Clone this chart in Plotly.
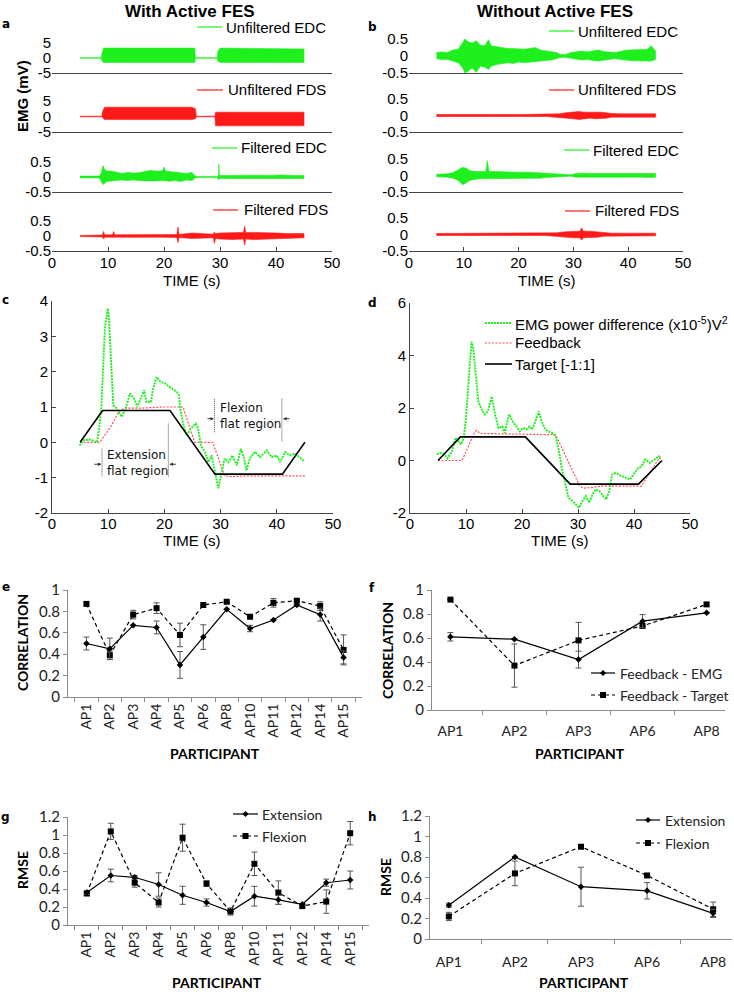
import plotly.graph_objects as go

# ======================= DATA =======================
time_ticks = [0, 10, 20, 30, 40, 50]
big_ticks = [-5, 0, 5]
small_ticks = [-0.5, 0, 0.5]

# ---- Panel a (With Active FES): EMG envelopes, time (s), upper / lower (mV)
a_uedc_t = [5, 8.8, 8.9, 9.2, 25.5, 25.6, 29.5, 29.6, 30.0, 45]
a_uedc_hi = [0.1, 0.1, 1.5, 3.3, 3.3, 0.1, 0.1, 2.0, 3.3, 3.0]
a_uedc_lo = [-0.1, -0.1, -0.8, -1.5, -1.5, -0.1, -0.1, -1.0, -1.5, -1.5]

a_ufds_t = [5, 8.9, 9.0, 9.4, 25.0, 25.6, 25.8, 29.1, 29.2, 45]
a_ufds_hi = [0.1, 0.1, 1.5, 3.0, 3.0, 2.5, 0.1, 0.1, 1.4, 1.4]
a_ufds_lo = [-0.1, -0.1, -0.5, -1.0, -1.0, -0.7, -0.1, -0.1, -3.0, -3.0]

a_fedc_t = [5, 8.5, 8.8, 9.1, 9.4, 9.8, 10.5, 11.5, 12.5, 13.5, 14.5, 15.5, 16.5, 17.5, 18.5,
            19.7, 20.0, 20.3, 21, 22, 23, 24, 25, 25.5, 26, 29.5, 29.7, 29.8, 29.9, 31, 33, 35,
            37, 39, 41, 43, 45]
a_fedc_hi = [0.03, 0.03, 0.15, 0.38, 0.25, 0.2, 0.2, 0.15, 0.12, 0.15, 0.13, 0.14, 0.17, 0.22, 0.2,
             0.2, 0.33, 0.2, 0.18, 0.15, 0.14, 0.12, 0.15, 0.04, 0.02, 0.02, 0.05, 0.42, 0.05, 0.05,
             0.06, 0.05, 0.06, 0.05, 0.07, 0.05, 0.05]
a_fedc_lo = [-0.03, -0.03, -0.15, -0.25, -0.22, -0.15, -0.15, -0.12, -0.1, -0.12, -0.1, -0.12, -0.13,
             -0.14, -0.13, -0.12, -0.12, -0.12, -0.14, -0.12, -0.15, -0.1, -0.12, -0.04, -0.02,
             -0.02, -0.05, -0.1, -0.05, -0.05, -0.05, -0.05, -0.05, -0.05, -0.06, -0.05, -0.05]

a_ffds_t = [5, 9.0, 9.2, 9.4, 10.8, 11.0, 11.2, 15, 20, 22.3, 22.5, 22.7, 25, 28.8, 29.0, 29.2,
            30, 32, 34.2, 34.4, 34.6, 36, 38, 40, 42, 45]
a_ffds_hi = [0.02, 0.03, 0.15, 0.04, 0.04, 0.15, 0.04, 0.04, 0.04, 0.05, 0.3, 0.05, 0.1, 0.06,
             0.13, 0.08, 0.1, 0.12, 0.12, 0.33, 0.12, 0.12, 0.12, 0.1, 0.08, 0.08]
a_ffds_lo = [-0.02, -0.03, -0.1, -0.04, -0.04, -0.06, -0.04, -0.04, -0.04, -0.05, -0.22, -0.05,
             -0.08, -0.06, -0.25, -0.08, -0.1, -0.12, -0.1, -0.3, -0.1, -0.12, -0.1, -0.1, -0.08, -0.06]

# ---- Panel b (Without Active FES)
b_uedc_t = [5, 6, 7, 8, 9, 9.8, 10.2, 10.8, 11.5, 12.3, 13, 13.8, 14.5, 15, 16, 17, 18, 19, 20, 21,
            22, 23, 24, 25, 26, 27, 27.5, 28.5, 29.5, 30.5, 31.5, 32.5, 33.5, 34.5, 35.5, 36.5, 37.5,
            38.5, 39.5, 40.5, 41.5, 42.5, 43.5, 44.2, 45]
b_uedc_hi = [0.1, 0.12, 0.1, 0.18, 0.2, 0.38, 0.5, 0.42, 0.38, 0.45, 0.32, 0.3, 0.48, 0.3, 0.27,
             0.25, 0.22, 0.22, 0.2, 0.2, 0.22, 0.25, 0.18, 0.15, 0.14, 0.1, 0.05, 0.04, 0.1, 0.13,
             0.15, 0.12, 0.15, 0.18, 0.13, 0.12, 0.1, 0.13, 0.17, 0.18, 0.18, 0.2, 0.2, 0.3, 0.15]
b_uedc_lo = [-0.08, -0.1, -0.1, -0.15, -0.2, -0.35, -0.5, -0.45, -0.35, -0.48, -0.3, -0.32, -0.4,
             -0.3, -0.25, -0.22, -0.2, -0.22, -0.18, -0.2, -0.2, -0.18, -0.15, -0.13, -0.12, -0.08,
             -0.05, -0.04, -0.08, -0.1, -0.12, -0.1, -0.13, -0.15, -0.12, -0.1, -0.08, -0.1, -0.12,
             -0.14, -0.13, -0.15, -0.15, -0.15, -0.1]

b_ufds_t = [5, 10, 15, 20, 25, 27.5, 28.5, 30, 31, 32, 33, 34, 35, 36, 37, 39, 41, 43, 45]
b_ufds_hi = [0.03, 0.04, 0.03, 0.03, 0.03, 0.05, 0.08, 0.1, 0.12, 0.1, 0.1, 0.12, 0.1, 0.08, 0.06,
             0.05, 0.05, 0.06, 0.05]
b_ufds_lo = [-0.03, -0.03, -0.03, -0.03, -0.03, -0.05, -0.08, -0.1, -0.12, -0.1, -0.08, -0.1, -0.1,
             -0.08, -0.05, -0.05, -0.04, -0.05, -0.05]

b_fedc_t = [5, 7, 8, 9, 9.8, 10.5, 11, 12, 13, 14, 14.3, 14.6, 16, 18, 20, 22, 24, 25, 26, 27, 28,
            29.5, 30.5, 32, 34, 36, 38, 40, 42, 44, 45]
b_fedc_hi = [0.04, 0.05, 0.08, 0.18, 0.25, 0.22, 0.15, 0.12, 0.12, 0.12, 0.45, 0.12, 0.12, 0.1,
             0.1, 0.1, 0.08, 0.08, 0.05, 0.05, 0.03, 0.02, 0.06, 0.07, 0.06, 0.06, 0.07, 0.06, 0.06,
             0.08, 0.06]
b_fedc_lo = [-0.04, -0.05, -0.08, -0.15, -0.28, -0.22, -0.15, -0.12, -0.1, -0.1, -0.1, -0.1, -0.1,
             -0.1, -0.08, -0.08, -0.08, -0.06, -0.05, -0.04, -0.03, -0.02, -0.05, -0.05, -0.05,
             -0.05, -0.05, -0.05, -0.05, -0.06, -0.05]

b_ffds_t = [5, 10, 15, 20, 25, 27, 28.5, 30, 31.2, 31.5, 31.8, 33, 34.5, 35.5, 37, 40, 45]
b_ffds_hi = [0.03, 0.03, 0.03, 0.03, 0.03, 0.05, 0.08, 0.1, 0.1, 0.2, 0.1, 0.1, 0.08, 0.05, 0.04,
             0.04, 0.04]
b_ffds_lo = [-0.03, -0.03, -0.03, -0.03, -0.03, -0.05, -0.08, -0.1, -0.1, -0.17, -0.1, -0.1, -0.08,
             -0.05, -0.04, -0.04, -0.04]

# ---- Panel c
c_emg_t = [4.9, 5.6, 6.8, 8.0, 8.4, 8.8, 9.4, 9.9, 10.1, 10.5, 10.9, 11.5, 12.4, 13.0, 13.4, 13.9,
           14.6, 15.2, 16.0, 16.4, 16.8, 17.6, 18.0, 18.6, 19.3, 20.1, 20.9, 21.6, 22.2, 22.6, 22.8,
           23.4, 24.0, 24.7, 25.6, 26.0, 26.5, 27.2, 27.8, 28.4, 29.3, 29.6, 30.2, 30.7, 31.4, 32.1,
           32.9, 33.6, 34.2, 34.6, 35.2, 36.1, 37.0, 38.2, 39.1, 40.0, 40.6, 41.5, 42.3, 43.2, 44.1,
           44.8]
c_emg_v = [-0.09, 0.06, 0.08, 0.0, 0.39, 1.05, 3.2, 3.79, 3.6, 2.28, 1.05, 0.96, 0.72, 0.91, 1.14,
           1.38, 1.24, 1.0, 1.33, 1.48, 1.14, 1.14, 1.52, 1.85, 1.71, 1.67, 1.57, 1.48, 1.43, 1.33,
           0.96, 0.48, 0.2, 0.39, 0.53, 0.39, -0.09, -0.27, -0.56, -0.37, -1.13, -1.3, -0.84, -0.46,
           -0.56, -0.37, -0.65, -0.18, -0.46, -0.8, -0.46, -0.27, -0.42, -0.23, -0.42, -0.37, -0.56,
           -0.27, -0.37, -0.32, -0.42, -0.53]
c_fb_t = [5, 8.5, 10.5, 12.0, 13.0, 16, 20, 23.3, 25.4, 28.6, 30.7, 32, 35, 45]
c_fb_v = [0, 0, 0.45, 0.9, 0.97, 0.97, 1.0, 1.0, 0.0, 0.0, -0.95, -0.97, -0.95, -0.95]
c_tg_t = [5, 9, 21, 29, 41, 45]
c_tg_v = [0, 0.9, 0.9, -0.9, -0.9, 0]

# ---- Panel d
d_emg_t = [4.8, 5.5, 6.1, 6.7, 7.5, 8.1, 8.7, 9.1, 9.6, 10.0, 10.6, 11.0, 11.3, 11.8, 12.2, 12.7,
           13.3, 13.9, 14.6, 15.2, 15.8, 16.5, 16.9, 17.7, 18.5, 19.0, 19.6, 20.2, 20.8, 21.3, 21.8,
           22.4, 23.0, 23.4, 24.0, 24.6, 25.4, 26.0, 26.5, 27.1, 27.7, 28.3, 29.0, 29.6, 30.2, 30.8,
           31.4, 32.0, 32.6, 33.2, 33.8, 34.5, 35.0, 35.6, 36.1, 36.8, 37.7, 38.6, 39.3, 40.1, 40.8,
           41.4, 42.0, 42.9, 43.6, 44.4, 44.8]
d_emg_v = [0.23, 0.29, 0.23, 0.08, 0.35, 0.86, 0.73, 0.61, 0.86, 1.62, 3.39, 4.53, 4.28, 3.01, 2.25,
           2.0, 1.75, 1.87, 2.44, 1.75, 1.24, 1.3, 1.05, 1.75, 1.43, 1.3, 1.11, 1.24, 1.18, 1.3, 1.18,
           1.49, 1.87, 1.56, 1.24, 1.11, 1.05, 0.92, 0.48, -0.28, -0.91, -1.42, -1.54, -1.67, -1.8,
           -1.54, -1.35, -1.61, -1.29, -1.1, -1.16, -1.35, -1.48, -1.16, -0.53, -0.47, -0.59, -0.66,
           -0.72, -0.47, -0.28, -0.22, 0.04, -0.09, 0.04, 0.16, 0.1]
d_fb_t = [5, 9.3, 11.6, 11.9, 12.5, 16, 20, 26.0, 30.3, 31.0, 32.5, 34, 41.3, 44.5, 45]
d_fb_v = [0, 0, 1.1, 1.15, 1.03, 1.02, 1.0, 0.98, -0.97, -1.05, -1.03, -0.98, -0.98, 0.1, 0.05]
d_tg_t = [5, 9, 20.6, 28.6, 40.8, 45]
d_tg_v = [0, 0.9, 0.9, -0.9, -0.9, 0]

# ---- Panels e-h
all_parts = ['AP1', 'AP2', 'AP3', 'AP4', 'AP5', 'AP6', 'AP8', 'AP10', 'AP11', 'AP12', 'AP14', 'AP15']
sub_parts = ['AP1', 'AP2', 'AP3', 'AP6', 'AP8']

e_emg = [0.50, 0.45, 0.67, 0.65, 0.30, 0.56, 0.82, 0.64, 0.72, 0.86, 0.77, 0.37]
e_emg_err = [0.06, 0.10, 0.0, 0.06, 0.125, 0.115, 0.0, 0.03, 0.0, 0.0, 0.06, 0.06]
e_tgt = [0.87, 0.39, 0.77, 0.83, 0.58, 0.86, 0.89, 0.75, 0.88, 0.90, 0.85, 0.44]
e_tgt_err = [0.015, 0.04, 0.04, 0.05, 0.11, 0.0, 0.0, 0.0, 0.04, 0.01, 0.04, 0.14]

f_emg = [0.61, 0.59, 0.42, 0.74, 0.81]
f_emg_err = [0.035, 0.0, 0.07, 0.055, 0.0]
f_tgt = [0.92, 0.37, 0.58, 0.70, 0.88]
f_tgt_err = [0.0, 0.18, 0.15, 0.0, 0.015]

g_ext = [0.36, 0.55, 0.53, 0.45, 0.33, 0.25, 0.15, 0.32, 0.28, 0.23, 0.47, 0.50]
g_ext_err = [0.02, 0.07, 0.02, 0.13, 0.1, 0.04, 0.04, 0.11, 0.05, 0.0, 0.04, 0.1]
g_flx = [0.35, 1.04, 0.47, 0.25, 0.97, 0.46, 0.15, 0.68, 0.36, 0.21, 0.26, 1.02]
g_flx_err = [0.02, 0.09, 0.05, 0.05, 0.15, 0.03, 0.0, 0.13, 0.13, 0.02, 0.13, 0.13]

h_ext = [0.33, 0.80, 0.51, 0.47, 0.25]
h_ext_err = [0.02, 0.0, 0.19, 0.08, 0.04]
h_flx = [0.22, 0.64, 0.90, 0.62, 0.29]
h_flx_err = [0.04, 0.12, 0.0, 0.0, 0.07]

# ======================= STYLE / LAYOUT =======================
W, H = 734, 992
GREEN = '#1ef01e'
RED = '#ff1a1a'
LRED = '#ff5050'
AXC = '#444444'
XLC = '#8c8c8c'
MFONT = 'Liberation Sans'
XFONT = 'Lato'
DFONT = 'DejaVu Sans'


def fmt(v):
    return '%g' % v


fig = go.Figure()
layout = {}
shapes = []
anns = []


def ids(n):
    s = '' if n == 1 else str(n)
    return 'xaxis' + s, 'yaxis' + s, 'x' + s, 'y' + s


def axes(n, xpx, ypx, xcfg, ycfg):
    xa, ya, xr, yr = ids(n)
    bx = dict(domain=[xpx[0] / W, xpx[1] / W], anchor=yr, showgrid=False, zeroline=False,
              fixedrange=True, automargin=False)
    by = dict(domain=[1 - ypx[1] / H, 1 - ypx[0] / H], anchor=xr, showgrid=False,
              zeroline=False, fixedrange=True, automargin=False)
    bx.update(xcfg)
    by.update(ycfg)
    layout[xa] = bx
    layout[ya] = by
    return xr, yr


def txt(x, y, s, size, family, bold=False, xanchor='center', yanchor='middle', angle=0,
        color='black', align='center'):
    if bold:
        s = '<b>' + s + '</b>'
    anns.append(dict(x=x / W, y=1 - y / H, xref='paper', yref='paper', text=s, showarrow=False,
                     font=dict(size=size, family=family, color=color), xanchor=xanchor,
                     yanchor=yanchor, textangle=angle, align=align, borderpad=0))


def hline(x0, x1, y, color, width=1.0, dash='solid'):
    shapes.append(dict(type='line', xref='paper', yref='paper', x0=x0 / W, x1=x1 / W,
                       y0=1 - y / H, y1=1 - y / H, line=dict(color=color, width=width, dash=dash)))


def square(cx, cy, s=3):
    shapes.append(dict(type='rect', xref='paper', yref='paper', x0=(cx - s) / W, x1=(cx + s) / W,
                       y0=1 - (cy + s) / H, y1=1 - (cy - s) / H, fillcolor='black',
                       line=dict(width=0)))


def diamond(cx, cy, s=3):
    p = 'M %f,%f L %f,%f L %f,%f L %f,%f Z' % (
        (cx - s) / W, 1 - cy / H, cx / W, 1 - (cy - s) / H, (cx + s) / W, 1 - cy / H,
        cx / W, 1 - (cy + s) / H)
    shapes.append(dict(type='path', xref='paper', yref='paper', path=p, fillcolor='black',
                       line=dict(width=0)))


tickfont_m = dict(family=MFONT, size=15, color='black')


def mx(show, standoff=0):
    d = dict(range=[0, 50], showline=True, linecolor=AXC, linewidth=1)
    if show:
        d.update(tickvals=time_ticks, ticktext=[fmt(v) for v in time_ticks], ticks='inside',
                 ticklen=4, tickcolor=AXC, tickfont=tickfont_m, ticklabelstandoff=standoff)
    else:
        d.update(showticklabels=False, ticks='')
    return d


def myrow(ticks):
    r = ticks[-1]
    return dict(range=[-r, r], tickvals=ticks, ticktext=[fmt(v) for v in ticks], showline=False,
                ticks='', tickfont=tickfont_m)


def band(n, t, hi, lo, color):
    _, _, xr, yr = ids(n)
    xs = list(t) + list(t)[::-1]
    ys = list(hi) + list(lo)[::-1]
    fig.add_trace(go.Scatter(x=xs, y=ys, xaxis=xr, yaxis=yr, mode='lines', fill='toself',
                             fillcolor=color, line=dict(color=color, width=0.6),
                             hoverinfo='skip'))


# ---- panels a and b
a_x = (52, 332)
b_x = (409, 683)
a_rows = [(43, 73), (101, 132), (162, 192), (221, 251)]
b_rows = [(39, 73), (99, 132), (159, 192), (218, 251)]
a_series = [(a_uedc_t, a_uedc_hi, a_uedc_lo, GREEN, big_ticks, 'Unfiltered EDC'),
            (a_ufds_t, a_ufds_hi, a_ufds_lo, RED, big_ticks, 'Unfiltered FDS'),
            (a_fedc_t, a_fedc_hi, a_fedc_lo, GREEN, small_ticks, 'Filtered EDC'),
            (a_ffds_t, a_ffds_hi, a_ffds_lo, RED, small_ticks, 'Filtered FDS')]
b_series = [(b_uedc_t, b_uedc_hi, b_uedc_lo, GREEN, small_ticks, 'Unfiltered EDC'),
            (b_ufds_t, b_ufds_hi, b_ufds_lo, RED, small_ticks, 'Unfiltered FDS'),
            (b_fedc_t, b_fedc_hi, b_fedc_lo, GREEN, small_ticks, 'Filtered EDC'),
            (b_ffds_t, b_ffds_hi, b_ffds_lo, RED, small_ticks, 'Filtered FDS')]
a_leg = [(197, 222, 225, 27), (197, 223, 227, 90), (212, 237, 240, 148), (213, 238, 243, 210)]
b_leg = [(549, 574, 577, 31), (549, 574, 577, 90), (564, 589, 592, 150), (565, 590, 594, 211)]

n = 1
for xpx, rows, series, legs in [(a_x, a_rows, a_series, a_leg), (b_x, b_rows, b_series, b_leg)]:
    for i in range(4):
        t, hi, lo, col, tk, name = series[i]
        axes(n, xpx, rows[i], mx(i == 3, -2), myrow(tk))
        band(n, t, hi, lo, col)
        lx0, lx1, tx, ty = legs[i]
        hline(lx0, lx1, ty, col, 1.2)
        txt(tx, ty, name, 15, MFONT, xanchor='left')
        n += 1

txt(190, 11, 'With Active FES', 17, MFONT, bold=True)
txt(555, 11, 'Without Active FES', 17, MFONT, bold=True)
txt(22, 96, 'EMG (mV)', 15, MFONT, bold=True, angle=-90)
txt(192, 280, 'TIME (s)', 15, MFONT)
txt(547, 280, 'TIME (s)', 15, MFONT)


# ---- panels c and d
def mycd(lo, hi, step):
    tv = list(range(lo, hi + 1, step))
    return dict(range=[lo, hi], tickvals=tv, ticktext=[fmt(v) for v in tv], showline=True,
                linecolor=AXC, ticks='inside', ticklen=4, tickcolor=AXC, tickfont=tickfont_m)


for n_, xpx, ypx, (ylo, yhi, st), emg_t, emg_v, fb_t, fb_v, tg_t, tg_v in [
        (9, (52, 333), (301, 513), (-2, 4, 1), c_emg_t, c_emg_v, c_fb_t, c_fb_v, c_tg_t, c_tg_v),
        (10, (410, 690), (303, 513), (-2, 6, 2), d_emg_t, d_emg_v, d_fb_t, d_fb_v, d_tg_t, d_tg_v)]:
    xr, yr = axes(n_, xpx, ypx, mx(True, -3), mycd(ylo, yhi, st))
    fig.add_trace(go.Scatter(x=fb_t, y=fb_v, xaxis=xr, yaxis=yr, mode='lines',
                             line=dict(color=LRED, width=1.2, dash='2px,1.5px')))
    fig.add_trace(go.Scatter(x=emg_t, y=emg_v, xaxis=xr, yaxis=yr, mode='lines',
                             line=dict(color=GREEN, width=1.9, dash='2px,1px')))
    fig.add_trace(go.Scatter(x=tg_t, y=tg_v, xaxis=xr, yaxis=yr, mode='lines',
                             line=dict(color='black', width=1.6)))

txt(192, 540, 'TIME (s)', 15, MFONT)
txt(560, 540, 'TIME (s)', 15, MFONT)

# flat-region markers in panel c (at target breakpoints)
ext_x0, ext_x1 = c_tg_t[1], c_tg_t[2]
flx_x0, flx_x1 = c_tg_t[3], c_tg_t[4]
for x0, y0, y1 in [(ext_x0 - 0.1, -0.18, -0.98), (ext_x1 - 0.3, 0.53, -0.98),
                   (flx_x0 - 0.1, 1.22, 0.27), (flx_x1 - 0.1, 1.24, 0.0)]:
    shapes.append(dict(type='line', xref='x9', yref='y9', x0=x0, x1=x0, y0=y0, y1=y1,
                       line=dict(color='#555555', width=1, dash='1px,1px')))
for tip, tail, yy in [(ext_x0 - 0.2, ext_x0 - 1.7, -0.62), (ext_x1 - 0.1, ext_x1 + 1.3, -0.62),
                      (flx_x0 - 0.2, flx_x0 - 1.6, 0.67), (flx_x1 + 0.1, flx_x1 + 1.5, 0.67)]:
    anns.append(dict(x=tip, y=yy, ax=tail, ay=yy, xref='x9', yref='y9', axref='x9', ayref='y9',
                     text='', showarrow=True, arrowhead=2, arrowsize=0.7, arrowwidth=1,
                     arrowcolor='#333333', standoff=0))
anns.append(dict(x=9.5, y=-0.58, xref='x9', yref='y9', text='Extension<br>flat region',
                 showarrow=False, xanchor='left', yanchor='middle', align='left',
                 font=dict(family=DFONT, size=12, color='#111111')))
anns.append(dict(x=29.6, y=0.74, xref='x9', yref='y9', text='Flexion<br>flat region',
                 showarrow=False, xanchor='left', yanchor='middle', align='left',
                 font=dict(family=DFONT, size=12, color='#111111')))

# legend of panel d
hline(485, 512, 323, GREEN, 1.9, '2px,1px')
hline(485, 512, 343, LRED, 1.2, '2px,1.5px')
hline(485, 512, 364, 'black', 1.6)
txt(514, 323, 'EMG power difference (x10<sup>-5</sup>)V<sup>2</sup>', 15, MFONT, xanchor='left')
txt(514, 343, 'Feedback', 15, MFONT, xanchor='left')
txt(514, 364, 'Target [-1:1]', 15, MFONT, xanchor='left')

# ---- panels e-h
tickfont_x = dict(family=XFONT, size=14, color='#222222')
tickfont_y = dict(family=XFONT, size=15, color='#222222')


def ex_x(rot, standoff=0):
    d = dict(type='category', showline=True, linecolor=XLC, ticks='outside', tickson='boundaries',
             ticklen=4, tickcolor=XLC, tickfont=tickfont_x, ticklabelstandoff=standoff)
    if rot:
        d['tickangle'] = -90
    return d


def ex_y(top):
    tv = [round(0.2 * k, 1) for k in range(int(round(top / 0.2)) + 1)]
    return dict(range=[0, top], tickvals=tv, ticktext=[fmt(v) for v in tv], showline=True,
                linecolor=XLC, ticks='outside', ticklen=4, tickcolor=XLC, tickfont=tickfont_y)


def series_pair(n_, cats, s1, e1, s2, e2):
    _, _, xr, yr = ids(n_)
    fig.add_trace(go.Scatter(x=cats, y=s2, xaxis=xr, yaxis=yr, mode='lines+markers',
                             line=dict(color='black', width=1.2, dash='4px,3px'),
                             marker=dict(symbol='square', size=6, color='black'),
                             error_y=dict(type='data', array=e2, color='#555555', thickness=1,
                                          width=3)))
    fig.add_trace(go.Scatter(x=cats, y=s1, xaxis=xr, yaxis=yr, mode='lines+markers',
                             line=dict(color='black', width=1.2),
                             marker=dict(symbol='diamond', size=5, color='black'),
                             error_y=dict(type='data', array=e1, color='#555555', thickness=1,
                                          width=3)))


axes(11, (68, 362), (590, 697), ex_x(True), ex_y(1.0))
series_pair(11, all_parts, e_emg, e_emg_err, e_tgt, e_tgt_err)
axes(12, (432, 725), (590, 710), ex_x(False, 8), ex_y(1.0))
series_pair(12, sub_parts, f_emg, f_emg_err, f_tgt, f_tgt_err)
axes(13, (68, 369), (817, 925), ex_x(True), ex_y(1.2))
series_pair(13, all_parts, g_ext, g_ext_err, g_flx, g_flx_err)
axes(14, (430, 732), (816, 939), ex_x(False, 10), ex_y(1.2))
series_pair(14, sub_parts, h_ext, h_ext_err, h_flx, h_flx_err)

txt(22, 643, 'CORRELATION', 14, XFONT, bold=True, angle=-90)
txt(387, 650, 'CORRELATION', 14, XFONT, bold=True, angle=-90)
txt(22, 870, 'RMSE', 14, XFONT, bold=True, angle=-90)
txt(385, 877, 'RMSE', 14, XFONT, bold=True, angle=-90)
txt(215, 753, 'PARTICIPANT', 14, XFONT, bold=True)
txt(580, 753, 'PARTICIPANT', 14, XFONT, bold=True)
txt(217, 982, 'PARTICIPANT', 14, XFONT, bold=True)
txt(584, 982, 'PARTICIPANT', 14, XFONT, bold=True)


def ex_legend(x0, x1, tx, y1, y2, n1, n2):
    hline(x0, x1, y1, 'black', 1.2)
    diamond((x0 + x1) / 2, y1, 3)
    hline(x0, x1, y2, 'black', 1.2, '4px,3px')
    square((x0 + x1) / 2, y2, 3)
    txt(tx, y1, n1, 14, XFONT, xanchor='left', color='#222222')
    txt(tx, y2, n2, 14, XFONT, xanchor='left', color='#222222')


ex_legend(591, 615, 619, 673, 695, 'Feedback - EMG', 'Feedback - Target')
ex_legend(233, 258, 261, 814, 836, 'Extension', 'Flexion')
ex_legend(636, 660, 664, 820, 843, 'Extension', 'Flexion')

# panel letters
for lt, x, y in [('a', 6, 24), ('b', 372, 27), ('c', 6, 300), ('d', 372, 303), ('e', 6, 587),
                 ('f', 372, 588), ('g', 6, 817), ('h', 372, 817)]:
    txt(x, y, lt, 12, DFONT, bold=True)

layout.update(width=W, height=H, margin=dict(l=0, r=0, t=0, b=0, pad=0, autoexpand=False),
              paper_bgcolor='white', plot_bgcolor='white', showlegend=False, shapes=shapes,
              annotations=anns)
fig.update_layout(**layout)
fig.write_html('out.html', config={'displayModeBar': False, 'responsive': False},
               post_script="document.body.style.margin='0';document.body.style.padding='0';")
